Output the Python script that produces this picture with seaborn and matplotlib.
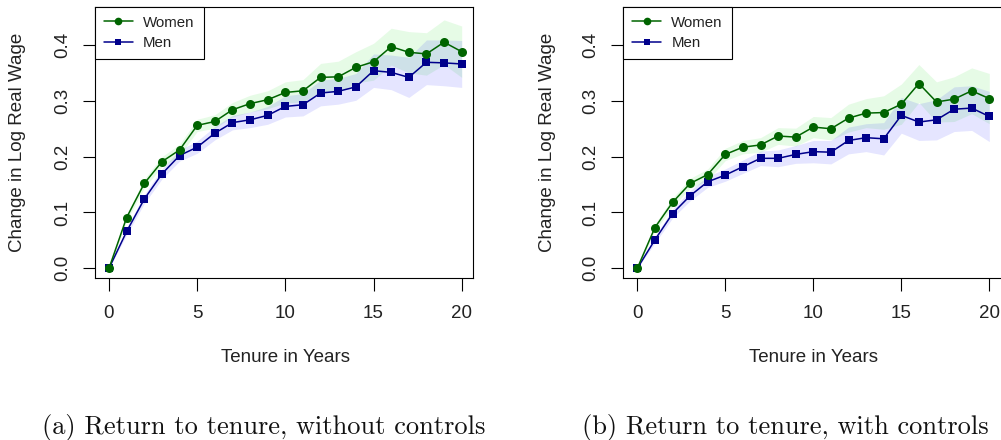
import numpy as np
import pandas as pd
import matplotlib
matplotlib.use("Agg")
import matplotlib.pyplot as plt
import matplotlib.transforms as mtransforms
from matplotlib.lines import Line2D
import seaborn as sns

# ---------------- data ----------------
tenure = list(range(21))

women_nocontrols = [0.0, 0.091, 0.152, 0.191, 0.212, 0.256, 0.263, 0.284, 0.295, 0.302, 0.315,
                    0.318, 0.342, 0.343, 0.360, 0.370, 0.397, 0.387, 0.384, 0.405, 0.388]
men_nocontrols = [0.0, 0.066, 0.124, 0.169, 0.202, 0.217, 0.242, 0.261, 0.266, 0.274, 0.290,
                  0.293, 0.314, 0.317, 0.325, 0.354, 0.351, 0.342, 0.369, 0.368, 0.366]
women_nocontrols_hw = [0.0, 0.006, 0.008, 0.009, 0.010, 0.011, 0.012, 0.013, 0.015, 0.016, 0.019,
                       0.020, 0.025, 0.028, 0.028, 0.033, 0.033, 0.037, 0.038, 0.040, 0.046]
men_nocontrols_hw = [0.0, 0.006, 0.008, 0.009, 0.010, 0.011, 0.012, 0.013, 0.014, 0.016, 0.019,
                     0.020, 0.023, 0.023, 0.024, 0.030, 0.031, 0.036, 0.040, 0.041, 0.042]

women_controls = [0.0, 0.073, 0.118, 0.152, 0.168, 0.204, 0.217, 0.221, 0.237, 0.235, 0.253,
                  0.250, 0.269, 0.278, 0.279, 0.294, 0.331, 0.298, 0.303, 0.318, 0.304]
men_controls = [0.0, 0.051, 0.098, 0.130, 0.155, 0.167, 0.182, 0.197, 0.197, 0.204, 0.209,
                0.208, 0.229, 0.234, 0.232, 0.274, 0.262, 0.266, 0.285, 0.287, 0.272]
women_controls_hw = [0.0, 0.006, 0.008, 0.009, 0.010, 0.011, 0.012, 0.013, 0.015, 0.016, 0.019,
                     0.020, 0.025, 0.026, 0.030, 0.036, 0.034, 0.036, 0.040, 0.041, 0.045]
men_controls_hw = [0.0, 0.006, 0.008, 0.009, 0.010, 0.011, 0.012, 0.013, 0.015, 0.016, 0.020,
                   0.021, 0.024, 0.025, 0.029, 0.032, 0.033, 0.036, 0.040, 0.040, 0.045]

groups = ["Women", "Men"]
yticks = [0.0, 0.1, 0.2, 0.3, 0.4]
ytick_labels = ["0.0", "0.1", "0.2", "0.3", "0.4"]
xticks = [0, 5, 10, 15, 20]
xtick_labels = ["0", "5", "10", "15", "20"]
xlabel = "Tenure in Years"
ylabel = "Change in Log Real Wage"
captions = ["(a) Return to tenure, without controls", "(b) Return to tenure, with controls"]

# ---------------- style ----------------
sns.set_style("white")
plt.rcParams["font.family"] = ["Liberation Sans", "DejaVu Sans"]

GREEN = "#006400"
BLUE = "#00008B"
BAND_GREEN = "#90EE90"
BAND_BLUE = "#0000FF"

W, H = 1001, 440
fig = plt.figure(figsize=(W / 100, H / 100), dpi=100)


def px_axes(left, right, top, bottom):
    return fig.add_axes([left / W, 1 - bottom / H, (right - left) / W, (bottom - top) / H])


def draw_panel(ax, women, men, women_hw, men_hw, x0px, ppy, left, right, ylab_x_px, cap, cap_x):
    t = np.array(tenure)
    w = np.array(women)
    m = np.array(men)
    whw = np.array(women_hw)
    mhw = np.array(men_hw)
    ax.fill_between(t, w - whw, w + whw, color=BAND_GREEN, alpha=0.22, lw=0, zorder=1)
    ax.fill_between(t, m - mhw, m + mhw, color=BAND_BLUE, alpha=0.1, lw=0, zorder=1)

    df = pd.DataFrame({
        "tenure": tenure + tenure,
        "value": list(men) + list(women),
        "group": ["Men"] * len(tenure) + ["Women"] * len(tenure),
    })
    sns.lineplot(data=df, x="tenure", y="value", hue="group", style="group",
                 hue_order=["Men", "Women"], style_order=["Men", "Women"],
                 palette={"Women": GREEN, "Men": BLUE},
                 markers={"Women": "o", "Men": "s"}, dashes=False,
                 markersize=6.5, markeredgewidth=0, lw=1.1,
                 errorbar=None, legend=False, ax=ax, zorder=3)
    for ln in ax.lines:
        if ln.get_marker() == "s":
            ln.set_markersize(5.6)

    ax.set_xlim((left - x0px) / ppy, (right - x0px) / ppy)
    ax.set_ylim(-0.0168, 0.4686)
    ax.set_xticks(xticks)
    ax.set_xticklabels(xtick_labels)
    ax.set_yticks(yticks)
    ax.set_yticklabels(ytick_labels, rotation=90, va="center")
    ax.tick_params(axis="both", direction="out", length=9, width=0.8, color="black",
                   labelsize=13.5, labelcolor="#222222")
    ax.tick_params(axis="x", bottom=True, top=False, pad=11)
    ax.tick_params(axis="y", left=True, right=False, pad=8)
    for s in ax.spines.values():
        s.set_visible(True)
        s.set_color("black")
        s.set_linewidth(0.8)

    ax.set_xlabel(xlabel, fontsize=13.5, color="#222222")
    ax.set_ylabel(ylabel, fontsize=13.5, color="#222222")
    ax.xaxis.label.set_va("center")
    ax.yaxis.label.set_va("center")
    trx = mtransforms.blended_transform_factory(ax.transData, ax.transAxes)
    ax.xaxis.set_label_coords(10, (277.7 - 358) / 271.0, transform=trx)
    ax.yaxis.set_label_coords((ylab_x_px - left) / (right - left), 0.5)

    handles = [Line2D([], [], color=GREEN, marker="o", markersize=5.5, mew=0, lw=1.1),
               Line2D([], [], color=BLUE, marker="s", markersize=4.8, mew=0, lw=1.1)]
    leg = ax.legend(handles, groups, loc="upper left", borderaxespad=0, fontsize=10.8,
                    frameon=True, fancybox=False, framealpha=1, edgecolor="black",
                    handlelength=1.9, handletextpad=0.7, borderpad=0.6, labelspacing=0.45)
    leg.get_frame().set_linewidth(0.8)
    for txt in leg.get_texts():
        txt.set_color("#222222")

    fig.text(cap_x / W, 1 - 427 / H, cap, family="cmr10", fontsize=19,
             ha="center", va="center", color="#111111")


ax1 = px_axes(95, 472.7, 6.7, 277.7)
draw_panel(ax1, women_nocontrols, men_nocontrols, women_nocontrols_hw, men_nocontrols_hw,
           109.0, 17.635, 95, 472.7, 18, captions[0], 263.5)

ax2 = px_axes(623.3, 1012, 6.7, 277.7)
draw_panel(ax2, women_controls, men_controls, women_controls_hw, men_controls_hw,
           637.3, 17.6, 623.3, 1012, 547, captions[1], 785.5)

fig.savefig("out.png", dpi=100)
